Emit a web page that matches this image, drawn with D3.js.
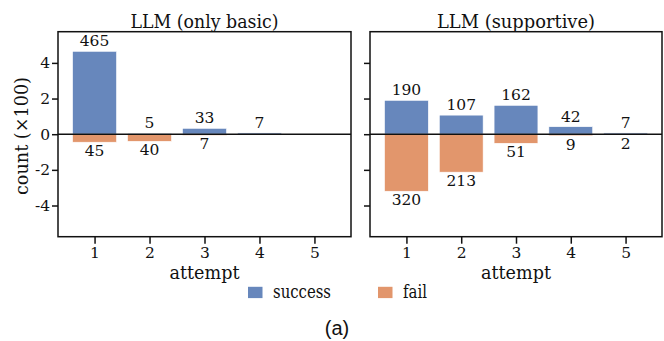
<!DOCTYPE html>
<html>
<head>
<meta charset="utf-8">
<script src="https://cdn.jsdelivr.net/npm/d3@7"></script>
<style>
  html, body { margin: 0; padding: 0; background: #fff; }
  svg { display: block; }
  text { font-family: "DejaVu Serif", serif; fill: #111; }
</style>
</head>
<body>
<svg id="chart" width="664" height="341"></svg>
<script>
// attempts and per-attempt counts for each condition
const attempts = [1, 2, 3, 4, 5];
const panelTitles = ["LLM (only basic)", "LLM (supportive)"];
const basicSuccess = [465, 5, 33, 7, 0];
const basicFail = [45, 40, 7, 0, 0];
const supportiveSuccess = [190, 107, 162, 42, 7];
const supportiveFail = [320, 213, 51, 9, 2];
const yTicks = [-4, -2, 0, 2, 4];
const seriesNames = ["success", "fail"];
const seriesColors = ["#6787bc", "#e2966c"];

const panels = [
  { title: panelTitles[0], titleLen: 148, success: basicSuccess, fail: basicFail, left: 58, right: 351, showY: true },
  { title: panelTitles[1], titleLen: 158, success: supportiveSuccess, fail: supportiveFail, left: 370, right: 662, showY: false }
];

const svg = d3.select("#chart");
const plotTop = 31.7, plotBottom = 236.7;
const y = d3.scaleLinear().domain([-5.75, 5.75]).range([plotBottom, plotTop]);

// plain hyphen for negatives
const intFmt = d => String(d);
const labelSize = 19;
const numSize = 15.5;

panels.forEach(p => {
  const x = d3.scaleLinear().domain([0.335, 5.665]).range([p.left, p.right]);
  const bw = (x(1.4) - x(0.6));
  const g = svg.append("g");

  // success bars (upwards, in hundreds)
  g.selectAll(".s").data(attempts.map((a, i) => ({ a, v: p.success[i] })))
    .join("rect")
    .attr("x", d => x(d.a) - bw / 2)
    .attr("width", bw)
    .attr("y", d => y(d.v / 100))
    .attr("height", d => y(0) - y(d.v / 100))
    .attr("fill", seriesColors[0])
    .attr("stroke", d => d.v > 0 ? "#fff" : "none")
    .attr("stroke-width", 0.6);

  // fail bars (downwards)
  g.selectAll(".f").data(attempts.map((a, i) => ({ a, v: p.fail[i] })))
    .join("rect")
    .attr("x", d => x(d.a) - bw / 2)
    .attr("width", bw)
    .attr("y", y(0))
    .attr("height", d => y(-d.v / 100) - y(0))
    .attr("fill", seriesColors[1])
    .attr("stroke", d => d.v > 0 ? "#fff" : "none")
    .attr("stroke-width", 0.6);

  // value labels
  g.selectAll(".sl").data(attempts.map((a, i) => ({ a, v: p.success[i] })).filter(d => d.v > 0))
    .join("text")
    .attr("x", d => x(d.a))
    .attr("y", d => y(d.v / 100) - 5)
    .attr("text-anchor", "middle")
    .attr("font-size", numSize)
    .text(d => d.v);
  g.selectAll(".fl").data(attempts.map((a, i) => ({ a, v: p.fail[i] })).filter(d => d.v > 0))
    .join("text")
    .attr("x", d => x(d.a))
    .attr("y", d => y(-d.v / 100) + 14)
    .attr("text-anchor", "middle")
    .attr("font-size", numSize)
    .text(d => d.v);

  // zero line
  g.append("line")
    .attr("x1", p.left).attr("x2", p.right)
    .attr("y1", y(0)).attr("y2", y(0))
    .attr("stroke", "#111").attr("stroke-width", 1.5);

  // frame
  g.append("rect")
    .attr("x", p.left).attr("y", plotTop)
    .attr("width", p.right - p.left).attr("height", plotBottom - plotTop)
    .attr("fill", "none").attr("stroke", "#111").attr("stroke-width", 1.5);

  // x axis
  const xAxis = g.append("g").attr("transform", `translate(0,${plotBottom})`)
    .call(d3.axisBottom(x).tickValues(attempts).tickFormat(intFmt).tickSize(7).tickPadding(3));
  xAxis.select(".domain").remove();
  xAxis.selectAll("line").attr("stroke", "#111").attr("stroke-width", 1.5);
  xAxis.selectAll("text").attr("font-size", numSize).attr("font-family", "DejaVu Serif").attr("fill", "#111");

  // y axis (labels only on the first panel)
  const yAxis = g.append("g").attr("transform", `translate(${p.left},0)`)
    .call(d3.axisLeft(y).tickValues(yTicks).tickFormat(p.showY ? intFmt : "").tickSize(6).tickPadding(2));
  yAxis.select(".domain").remove();
  yAxis.selectAll("line").attr("stroke", "#111").attr("stroke-width", 1.5);
  yAxis.selectAll("text").attr("font-size", numSize).attr("font-family", "DejaVu Serif").attr("fill", "#111");

  // titles
  g.append("text")
    .attr("x", (p.left + p.right) / 2).attr("y", 28)
    .attr("text-anchor", "middle").attr("font-size", labelSize)
    .attr("textLength", p.titleLen).attr("lengthAdjust", "spacingAndGlyphs")
    .text(p.title);
  g.append("text")
    .attr("x", (p.left + p.right) / 2).attr("y", 279.3)
    .attr("text-anchor", "middle").attr("font-size", labelSize)
    .attr("textLength", 70).attr("lengthAdjust", "spacingAndGlyphs")
    .text("attempt");
});

// y label
svg.append("text")
  .attr("transform", "translate(27.5,136) rotate(-90)")
  .attr("text-anchor", "middle").attr("font-size", labelSize)
  .attr("textLength", 118).attr("lengthAdjust", "spacingAndGlyphs")
  .text("count (×100)");

// legend
const legend = svg.append("g");
const legendX = [248, 378];
const legendLen = [58, 24];
seriesNames.forEach((n, i) => {
  legend.append("rect")
    .attr("x", legendX[i]).attr("y", 286.8)
    .attr("width", 14.5).attr("height", 11.3)
    .attr("fill", seriesColors[i]);
  legend.append("text")
    .attr("x", legendX[i] + 25).attr("y", 298.3)
    .attr("font-size", labelSize)
    .attr("textLength", legendLen[i]).attr("lengthAdjust", "spacingAndGlyphs")
    .text(n);
});

// panel caption
svg.append("text")
  .attr("x", 337).attr("y", 335)
  .attr("text-anchor", "middle")
  .style("font-family", "'Liberation Sans', Arial, sans-serif")
  .attr("font-size", 20)
  .text("(a)");
</script>
</body>
</html>
